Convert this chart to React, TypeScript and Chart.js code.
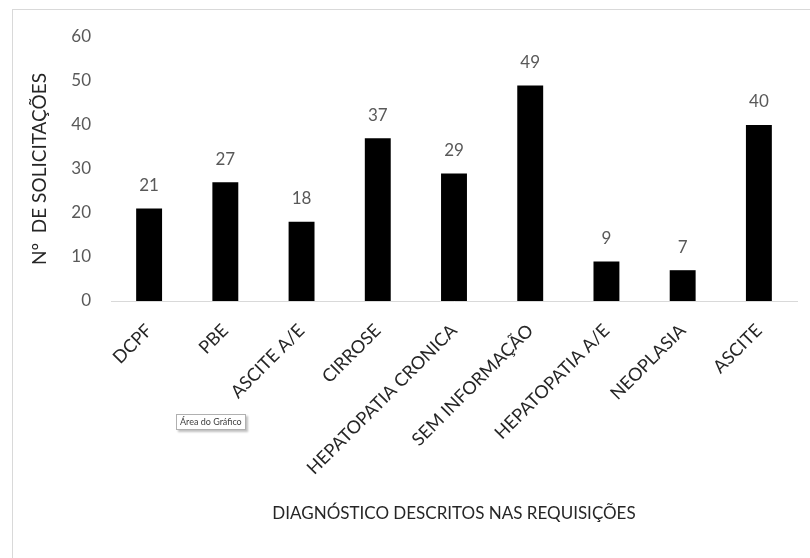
import React, { useEffect, useRef } from "react";
import { Chart, registerables } from "chart.js";

Chart.register(...registerables);

// Diagnoses listed on the requests and how many requests cited each one
const categories = [
  "DCPF",
  "PBE",
  "ASCITE A/E",
  "CIRROSE",
  "HEPATOPATIA CRONICA",
  "SEM INFORMAÇÃO",
  "HEPATOPATIA A/E",
  "NEOPLASIA",
  "ASCITE",
];
const requestCounts = [21, 27, 18, 37, 29, 49, 9, 7, 40];
const yTicks = [0, 10, 20, 30, 40, 50, 60];

const yTitle = "Nº  DE SOLICITAÇÕES";
const xTitle = "DIAGNÓSTICO DESCRITOS NAS REQUISIÇÕES";

const FONT = "Lato, 'Open Sans', sans-serif";

// Writes each bar's value just above it
const valueLabels = {
  id: "valueLabels",
  afterDatasetsDraw(chart: any) {
    const ctx = chart.ctx;
    const meta = chart.getDatasetMeta(0);
    const data = chart.data.datasets[0].data as number[];
    ctx.save();
    ctx.font = `17px ${FONT}`;
    ctx.fillStyle = "#595959";
    ctx.textAlign = "center";
    ctx.textBaseline = "middle";
    meta.data.forEach((bar: any, i: number) => {
      ctx.fillText(String(data[i]), bar.x, bar.y - 23);
    });
    ctx.restore();
  },
};

export default function App() {
  const canvasRef = useRef<HTMLCanvasElement | null>(null);

  useEffect(() => {
    if (!canvasRef.current) return;
    const chart = new Chart(canvasRef.current, {
      type: "bar",
      data: {
        labels: categories,
        datasets: [
          {
            data: requestCounts,
            backgroundColor: "#000000",
            borderWidth: 0,
            barPercentage: 0.34,
            categoryPercentage: 1,
          },
        ],
      },
      options: {
        animation: false,
        responsive: false,
        maintainAspectRatio: false,
        layout: { padding: { top: 37, right: 13, left: 0, bottom: 0 } },
        plugins: {
          legend: { display: false },
          tooltip: { enabled: false },
        },
        scales: {
          x: {
            grid: { display: false, drawTicks: false },
            border: { display: true, color: "#d9d9d9", width: 1 },
            ticks: {
              minRotation: 45,
              maxRotation: 45,
              autoSkip: false,
              padding: 19,
              color: "#262626",
              font: { family: FONT, size: 18 },
            },
            title: {
              display: true,
              text: xTitle,
              color: "#262626",
              font: { family: FONT, size: 17 },
              padding: { top: 0, bottom: 34 },
            },
            afterFit(scale: any) {
              scale.height = 257;
            },
          },
          y: {
            min: 0,
            max: 60,
            grid: { display: false, drawTicks: false },
            border: { display: false },
            afterBuildTicks(scale: any) {
              scale.ticks = yTicks.map((v) => ({ value: v }));
            },
            ticks: {
              padding: 20,
              color: "#595959",
              font: { family: FONT, size: 17 },
            },
            title: {
              display: true,
              text: yTitle,
              color: "#262626",
              font: { family: FONT, size: 19 },
              padding: { top: 28, bottom: 0 },
            },
            afterFit(scale: any) {
              scale.width = 111;
            },
          },
        },
      },
      plugins: [valueLabels],
    });
    return () => chart.destroy();
  }, []);

  return (
    <div
      style={{
        position: "absolute",
        left: 0,
        top: 0,
        width: 810,
        height: 558,
        overflow: "hidden",
        background: "#ffffff",
      }}
    >
      <div
        style={{
          position: "absolute",
          left: 12,
          top: 9,
          width: 830,
          height: 580,
          border: "1px solid #d9d9d9",
        }}
      />
      <canvas
        ref={canvasRef}
        width={810}
        height={558}
        style={{ position: "absolute", left: 0, top: 0, width: 810, height: 558 }}
      />
      <div
        style={{
          position: "absolute",
          left: 176,
          top: 414,
          height: 14,
          padding: "0 3px",
          border: "1px solid #b0b0b0",
          boxShadow: "2px 2px 2px rgba(0,0,0,0.25)",
          background: "#ffffff",
          fontFamily: FONT,
          fontSize: 9,
          lineHeight: "14px",
          color: "#404040",
          whiteSpace: "nowrap",
        }}
      >
        Área do Gráfico
      </div>
    </div>
  );
}
